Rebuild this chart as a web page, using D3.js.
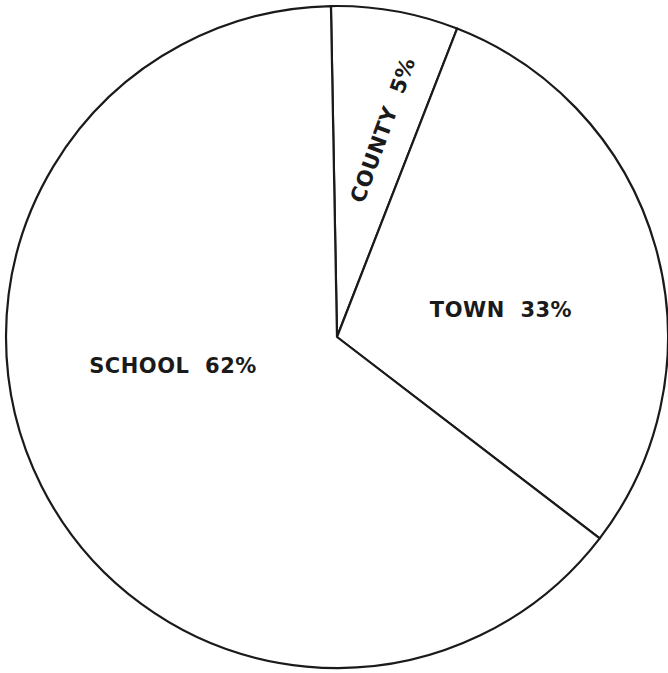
<!DOCTYPE html>
<html>
<head>
<meta charset="utf-8">
<script src="https://cdn.jsdelivr.net/npm/d3@7"></script>
<style>
  html, body { margin: 0; padding: 0; background: #fff; }
  svg { display: block; }
</style>
</head>
<body>
<svg id="chart"></svg>
<script>
// slice shares as drawn (degrees, in percent)
const categories = ["COUNTY", "TOWN", "SCHOOL"];
const shares = [6.2, 29.5, 64.3];
const labels = ["COUNTY  5%", "TOWN  33%", "SCHOOL  62%"];

const width = 668, height = 673;
const cx = 337, cy = 337, radius = 331;
const startDeg = -1.05;

const svg = d3.select("#chart")
    .attr("width", width)
    .attr("height", height);

const pie = d3.pie()
    .sort(null)
    .value(d => d)
    .startAngle(startDeg * Math.PI / 180)
    .endAngle((startDeg + 360) * Math.PI / 180);

const arc = d3.arc().innerRadius(0).outerRadius(radius);

const g = svg.append("g").attr("transform", `translate(${cx},${cy})`);

// Draw slices
g.selectAll("path")
    .data(pie(shares))
    .join("path")
    .attr("d", arc)
    .attr("fill", "#fff")
    .attr("stroke", "#1a1a1a")
    .attr("stroke-width", 2.2)
    .attr("stroke-linejoin", "round");

// label placement (centre x, y, rotation) per slice
const labelPos = [
    { x: 383, y: 130, rot: -70 },
    { x: 501, y: 310, rot: 0 },
    { x: 173, y: 366, rot: 0 }
];

svg.append("g")
    .selectAll("text")
    .data(labels)
    .join("text")
    .attr("transform", (d, i) => `translate(${labelPos[i].x},${labelPos[i].y}) rotate(${labelPos[i].rot})`)
    .attr("text-anchor", "middle")
    .attr("dominant-baseline", "central")
    .attr("font-family", "'DejaVu Sans', sans-serif")
    .attr("font-weight", "bold")
    .attr("font-size", 21)
    .attr("letter-spacing", 0.5)
    .attr("fill", "#1a1a1a")
    .style("white-space", "pre")
    .text(d => d);
</script>
</body>
</html>
